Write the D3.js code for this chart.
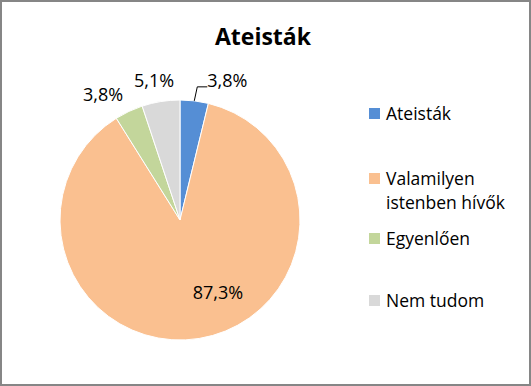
<!DOCTYPE html>
<html>
<head>
<meta charset="utf-8">
<script src="https://d3js.org/d3.v7.min.js"></script>
<style>
  body { margin: 0; background: #fff; }
  text { font-family: "Open Sans", "Liberation Sans", sans-serif; }
</style>
</head>
<body>
<div id="chart"></div>
<script>
// data
var categories = ["Ateisták", "Valamilyen istenben hívők", "Egyenlően", "Nem tudom"]
var values = [3.8, 87.3, 3.8, 5.1]
var labels = ["3,8%", "87,3%", "3,8%", "5,1%"]
var colors = ["#558ED5", "#FAC090", "#C3D69B", "#D9D9D9"]

var width = 531, height = 386
var cx = 180, cy = 220, r = 120

var svg = d3.select("#chart").append("svg")
  .attr("width", width)
  .attr("height", height)

// outer frame
svg.append("rect")
  .attr("x", 1).attr("y", 1)
  .attr("width", width - 2).attr("height", height - 2)
  .attr("fill", "#fff")
  .attr("stroke", "#868686")
  .attr("stroke-width", 2)

svg.append("text")
  .attr("x", 263).attr("y", 45)
  .attr("text-anchor", "middle")
  .attr("font-size", 23)
  .attr("font-weight", "bold")
  .text("Ateisták")

var pie = d3.pie().sort(null).value(function(d){ return d })
var arcs = pie(values)
var arc = d3.arc().innerRadius(0).outerRadius(r)

var g = svg.append("g").attr("transform", "translate(" + cx + "," + cy + ")")

g.selectAll("path")
  .data(arcs)
  .enter()
  .append("path")
  .attr("d", arc)
  .attr("fill", function(d,i){ return colors[i] })
  .attr("stroke", "#fff")
  .attr("stroke-width", 1)

// label offsets from pie centre (middle of the text)
var labelPos = [null, [38, 74], [-77, -124], [-26, -138]]
arcs.forEach(function(d, i){
  if (i == 0) {
    // first label sits off to the right with a leader line
    var a = (d.startAngle + d.endAngle) / 2
    var ex = Math.sin(a) * r, ey = -Math.cos(a) * r
    g.append("polyline")
      .attr("points", [[ex, ey], [ex + 3, ey - 14], [ex + 13, ey - 14]].join(" "))
      .attr("fill", "none")
      .attr("stroke", "#000")
      .attr("stroke-width", 1)
    g.append("text")
      .attr("x", ex + 13).attr("y", ey - 14)
      .attr("font-size", 18)
      .text(labels[i])
    return
  }
  g.append("text")
    .attr("x", labelPos[i][0]).attr("y", labelPos[i][1])
    .attr("text-anchor", "middle")
    .attr("dominant-baseline", "middle")
    .attr("font-size", 18)
    .text(labels[i])
})

// legend
var legendY = [120, 185, 245, 307]
var leg = svg.append("g")
categories.forEach(function(c, i){
  leg.append("rect")
    .attr("x", 369).attr("y", legendY[i] - 12)
    .attr("width", 11).attr("height", 11)
    .attr("fill", colors[i])
  var t = leg.append("text")
    .attr("x", 386).attr("y", legendY[i])
    .attr("font-size", 17.5)
  if (i == 1) {
    t.append("tspan").attr("x", 386).text("Valamilyen")
    t.append("tspan").attr("x", 386).attr("dy", 24).text("istenben hívők")
  } else {
    t.text(c)
  }
})
</script>
</body>
</html>
